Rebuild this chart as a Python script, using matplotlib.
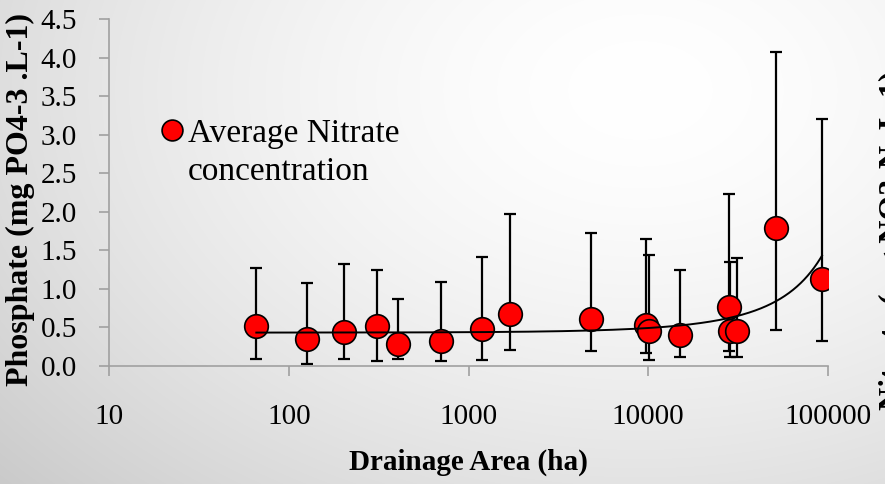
import numpy as np
import matplotlib
matplotlib.use("Agg")
import matplotlib.pyplot as plt
from matplotlib.lines import Line2D

# ---- data ----
area_ha = [66, 126, 203, 310, 405, 703, 1190, 1700, 4800, 9700, 10100,
           15000, 28100, 28500, 31000, 51400, 92700]
phosphate_mean = [0.52, 0.35, 0.44, 0.52, 0.29, 0.32, 0.48, 0.67, 0.61, 0.53, 0.46,
                  0.40, 0.77, 0.45, 0.45, 1.79, 1.13]
err_upper_val = [1.27, 1.08, 1.32, 1.25, 0.87, 1.09, 1.41, 1.97, 1.72, 1.65, 1.44,
                 1.25, 2.23, 1.35, 1.40, 4.07, 3.20]
err_lower_val = [0.09, 0.03, 0.09, 0.07, 0.09, 0.06, 0.08, 0.21, 0.20, 0.17, 0.08,
                 0.12, 0.19, 0.12, 0.12, 0.47, 0.33]
x_ticks = [10, 100, 1000, 10000, 100000]
x_tick_labels = ["10", "100", "1000", "10000", "100000"]
y_ticks = [0.0, 0.5, 1.0, 1.5, 2.0, 2.5, 3.0, 3.5, 4.0, 4.5]
y_tick_labels = ["0.0", "0.5", "1.0", "1.5", "2.0", "2.5", "3.0", "3.5", "4.0", "4.5"]
legend_label = "Average Nitrate\nconcentration"
x_label = "Drainage Area (ha)"
y_label = "Phosphate (mg PO4-3 .L-1)"
edge_label = "Nitrate (mg NO3-N .L-1)"

plt.rcParams['font.family'] = ['Liberation Serif', 'DejaVu Serif']

W, H = 885, 484
fig = plt.figure(figsize=(W / 100, H / 100), dpi=100)

# background gradient
bg = fig.add_axes([0, 0, 1, 1], zorder=-10)
yy, xx = np.mgrid[0:H, 0:W]
d = np.sqrt(((xx - 640) / 760.0) ** 2 + ((yy - 90) / 520.0) ** 2)
shade = 1.0 - 0.17 * np.clip(d, 0, 1.3) ** 1.6
bg.imshow(np.dstack([shade] * 3), aspect='auto', extent=[0, 1, 0, 1],
          interpolation='bilinear')
bg.set_axis_off()

left, right, bottom, top = 109, 828, 366, 19
ax = fig.add_axes([left / W, 1 - bottom / H, (right - left) / W, (bottom - top) / H])
ax.patch.set_alpha(0)

x = np.array(area_ha, float)
y = np.array(phosphate_mean, float)
yerr = [y - np.array(err_lower_val), np.array(err_upper_val) - y]

ax.errorbar(x, y, yerr=yerr, fmt='none', ecolor='black', elinewidth=1.6,
            capsize=4.5, capthick=1.6, zorder=2)
ax.plot(x, y, 'o', ms=17, mfc='#FF0000', mec='black', mew=1.2, zorder=3,
        linestyle='none', label=legend_label)

# exponential trendline (least squares on ln y, as in spreadsheet trendline)
b, ln_a = np.polyfit(x, np.log(y), 1)
xt = np.linspace(x.min(), x.max(), 400)
ax.plot(xt, np.exp(ln_a) * np.exp(b * xt), color='black', lw=1.4, zorder=4)

ax.set_xscale('log')
ax.set_xlim(10, 100000)
ax.set_ylim(0, 4.5)
ax.set_xticks(x_ticks)
ax.set_xticklabels(x_tick_labels)
ax.xaxis.set_minor_locator(matplotlib.ticker.NullLocator())
ax.set_yticks(y_ticks)
ax.set_yticklabels(y_tick_labels)

for s in ['top', 'right']:
    ax.spines[s].set_visible(False)
for s in ['left', 'bottom']:
    ax.spines[s].set_color('#a0a0a0')
    ax.spines[s].set_linewidth(1.2)
ax.tick_params(axis='both', direction='out', length=7, width=1.2, color='#a0a0a0',
               labelsize=21, labelcolor='black')
ax.tick_params(axis='x', pad=20)
ax.tick_params(axis='y', pad=16)

ax.set_xlabel(x_label, fontsize=21, fontweight='bold', labelpad=14)
fig.text(20 / W, 1 - 200 / H, y_label, rotation=90, fontsize=23, fontweight='bold',
         ha='center', va='center')

# label of a neighbouring chart, cut off at the right edge as in the reference
fig.text(879 / W, 1 - 240 / H, edge_label, rotation=90, fontsize=23,
         fontweight='bold', ha='left', va='center')

# legend: marker aligned with the first line of the two-line label
fig.add_artist(Line2D([172 / W], [1 - 130 / H], transform=fig.transFigure,
                      marker='o', ls='none', ms=15, mfc='#FF0000', mec='black', mew=1.2))
fig.text(188 / W, 1 - 130 / H, legend_label.split("\n")[0], fontsize=24,
         ha='left', va='center_baseline')
fig.text(188 / W, 1 - 168 / H, legend_label.split("\n")[1], fontsize=24,
         ha='left', va='center_baseline')

fig.savefig('out.png', dpi=100)
